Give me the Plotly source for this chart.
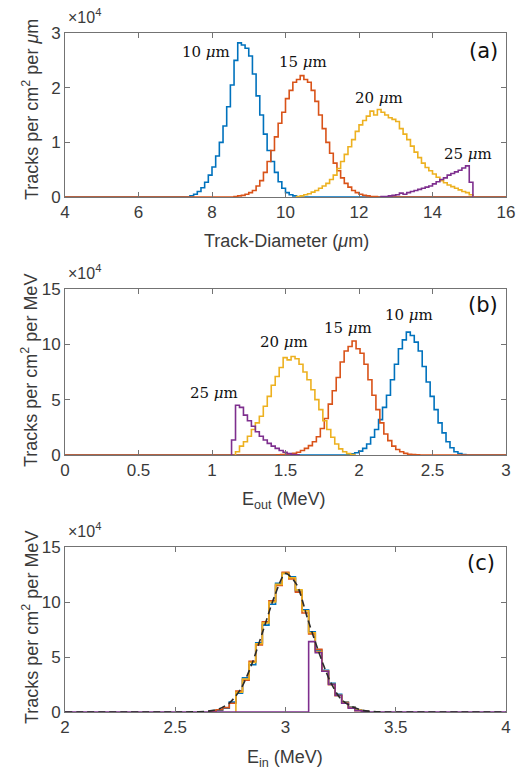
import numpy as np
import plotly.graph_objects as go

# ---------------- data (counts in units of 1e4) ----------------
# (a) track-diameter spectra, bin width 0.1 um
a_width = 0.1
a_10um_start = 7.4
a_10um = [0.02, 0.05, 0.10, 0.17, 0.27, 0.40, 0.55, 0.75, 1.00, 1.30, 1.65, 2.05, 2.50,
          2.82, 2.78, 2.72, 2.58, 2.25, 1.85, 1.50, 1.15, 0.85, 0.65, 0.45, 0.28, 0.16,
          0.08, 0.04, 0.02]
a_15um_start = 8.6
a_15um = [0.01, 0.02, 0.03, 0.05, 0.08, 0.12, 0.20, 0.30, 0.45, 0.65, 0.85, 1.10, 1.35,
          1.55, 1.80, 1.95, 2.10, 2.15, 2.22, 2.15, 2.10, 1.95, 1.75, 1.50, 1.25, 1.00,
          0.80, 0.62, 0.48, 0.35, 0.25, 0.18, 0.12, 0.08, 0.05, 0.03, 0.02, 0.01, 0.01]
a_20um_start = 10.3
a_20um = [0.01, 0.02, 0.04, 0.06, 0.09, 0.12, 0.16, 0.20, 0.25, 0.32, 0.40, 0.52, 0.65,
          0.78, 0.92, 1.05, 1.20, 1.32, 1.40, 1.48, 1.57, 1.50, 1.60, 1.55, 1.50, 1.45,
          1.42, 1.38, 1.25, 1.15, 1.05, 0.93, 0.82, 0.72, 0.62, 0.54, 0.48, 0.42, 0.36,
          0.30, 0.26, 0.22, 0.19, 0.16, 0.13, 0.10, 0.08, 0.04]
a_25um_start = 12.6
a_25um = [0.01, 0.01, 0.02, 0.03, 0.04, 0.07, 0.05, 0.08, 0.10, 0.12, 0.14, 0.16, 0.18,
          0.20, 0.24, 0.28, 0.32, 0.35, 0.40, 0.43, 0.46, 0.49, 0.53, 0.57, 0.27]

# (b) exit-energy spectra, bin width 0.027 MeV
b_width = 0.027
b_10um_start = 1.917
b_10um = [0.05, 0.10, 0.20, 0.35, 0.60, 1.00, 1.60, 2.30, 3.20, 4.30, 5.40, 6.80, 8.20,
          9.60, 10.4, 11.1, 10.8, 10.2, 9.40, 8.00, 6.60, 5.30, 4.10, 2.90, 2.00, 1.20,
          0.65, 0.30, 0.12, 0.04]
b_15um_start = 1.44
b_15um = [0.02, 0.04, 0.06, 0.10, 0.15, 0.25, 0.40, 0.60, 0.85, 1.20, 1.65, 2.40, 3.30,
          4.60, 5.80, 7.00, 8.40, 9.40, 9.80, 10.3, 9.60, 9.20, 8.20, 6.80, 5.40, 4.10,
          2.90, 1.90, 1.30, 0.80, 0.50, 0.30, 0.15, 0.07, 0.03, 0.01]
b_20um_start = 1.16
b_20um = [0.30, 0.80, 1.20, 1.70, 2.30, 2.90, 3.50, 4.40, 5.30, 6.30, 7.10, 7.90, 8.80,
          8.60, 8.90, 8.70, 8.20, 7.50, 6.80, 5.90, 5.00, 4.10, 3.10, 2.30, 1.60, 1.00,
          0.55, 0.30, 0.12, 0.04]
b_25um_start = 1.133
b_25um = [1.35, 4.50, 4.30, 3.60, 3.10, 2.60, 2.10, 1.70, 1.35, 1.05, 0.80, 0.60, 0.40,
          0.25, 0.12, 0.05, 0.02]

# (c) reconstructed incident-energy spectra, bin width 0.03 MeV
c_width = 0.03
c_10um_start = 2.655
c_10um = [0.05, 0.15, 0.35, 0.90, 1.70, 3.10, 4.30, 6.30, 7.90, 9.80, 11.7, 12.6, 12.3,
          11.0, 9.30, 7.30, 5.60, 3.80, 2.60, 1.60, 0.90, 0.45, 0.18, 0.06]
c_15um_start = 2.655
c_15um = [0.08, 0.20, 0.40, 0.80, 1.90, 2.90, 4.60, 6.10, 8.20, 10.1, 11.5, 12.7, 12.1,
          10.9, 9.00, 7.10, 5.70, 3.70, 2.50, 1.50, 0.85, 0.40, 0.15, 0.05]
c_20um_start = 2.775
c_20um = [1.80, 3.00, 4.50, 6.20, 8.10, 10.0, 11.6, 12.6, 12.2, 11.1, 9.20, 7.20, 5.50,
          3.70, 2.50, 1.50, 0.85, 0.40, 0.15, 0.05]
c_25um_start = 3.105
c_25um = [6.40, 5.40, 3.70, 2.50, 1.50, 0.80, 0.35, 0.12, 0.04]
# source spectrum (dashed)
c_src_e = [2.0, 2.55, 2.6, 2.65, 2.7, 2.75, 2.8, 2.85, 2.9, 2.95, 3.0, 3.05, 3.1, 3.15,
           3.2, 3.25, 3.3, 3.35, 3.4, 3.45, 4.0]
c_src_n = [0, 0, 0.02, 0.08, 0.3, 0.9, 2.2, 4.5, 7.5, 10.5, 12.6, 11.6, 8.5, 5.5,
           2.9, 1.2, 0.5, 0.15, 0.04, 0, 0]

labels = ["10 <i>μ</i>m", "15 <i>μ</i>m", "20 <i>μ</i>m", "25 <i>μ</i>m"]
colors = ["#0072BD", "#D95319", "#EDB120", "#7E2F8E"]

# ---------------- helpers ----------------
def stairs(start, width, vals, span=None):
    """Step outline of a histogram (MATLAB 'stairs' style)."""
    edges = start + width * np.arange(len(vals) + 1)
    xs = [edges[0]] + list(edges[:-1]) + [edges[-1]]
    ys = [0.0] + list(vals) + [0.0]
    if span is not None:
        xs = [span[0]] + xs + [span[1]]
        ys = [0.0] + ys + [0.0]
    return xs, ys


fig = go.Figure()

W, H = 526, 772
x_left, x_right = 65, 506
panels = {
    "a": (33, 197),
    "b": (289, 455),
    "c": (547, 712),
}

def ydom(top, bot):
    return [1 - bot / H, 1 - top / H]

xdom = [x_left / W, x_right / W]

axis_line = "#737373"
tick_font = dict(family="Liberation Sans, Arial, sans-serif", size=17, color="#3a3a3a")
common_axis = dict(showline=True, linecolor=axis_line, linewidth=1, mirror="ticks",
                   ticks="inside", ticklen=5, tickcolor=axis_line, tickwidth=1,
                   showgrid=False, zeroline=False, tickfont=tick_font, automargin=False)

# ----- panel (a)
sets_a = [(a_10um_start, a_10um), (a_15um_start, a_15um),
          (a_20um_start, a_20um), (a_25um_start, a_25um)]
for i, (s, v) in enumerate(sets_a):
    span = (4, 16) if i in (0, 1) else None
    xs, ys = stairs(s, a_width, v, span)
    fig.add_trace(go.Scatter(x=xs, y=ys, mode="lines", line=dict(color=colors[i], width=1.6, shape="hv"),
                             xaxis="x", yaxis="y", showlegend=False))

# ----- panel (b)
sets_b = [(b_10um_start, b_10um), (b_15um_start, b_15um),
          (b_20um_start, b_20um), (b_25um_start, b_25um)]
for i, (s, v) in enumerate(sets_b):
    span = (0, 3) if i in (0, 1) else None
    xs, ys = stairs(s, b_width, v, span)
    fig.add_trace(go.Scatter(x=xs, y=ys, mode="lines", line=dict(color=colors[i], width=1.6, shape="hv"),
                             xaxis="x2", yaxis="y2", showlegend=False))

# ----- panel (c)
sets_c = [(c_10um_start, c_10um), (c_15um_start, c_15um),
          (c_20um_start, c_20um), (c_25um_start, c_25um)]
for i, (s, v) in enumerate(sets_c):
    span = (2, 4) if i == 3 else None
    xs, ys = stairs(s, c_width, v, span)
    fig.add_trace(go.Scatter(x=xs, y=ys, mode="lines", line=dict(color=colors[i], width=1.6, shape="hv"),
                             xaxis="x3", yaxis="y3", showlegend=False))
fig.add_trace(go.Scatter(x=c_src_e, y=c_src_n, mode="lines",
                         line=dict(color="#2b2b2b", width=1.6, dash="7px,4px", shape="spline", smoothing=0.8),
                         xaxis="x3", yaxis="y3", showlegend=False))

# ----- axes
fig.update_layout(
    width=W, height=H, margin=dict(l=0, r=0, t=0, b=0),
    paper_bgcolor="white", plot_bgcolor="white",
    xaxis=dict(domain=xdom, range=[4, 16], tickvals=[4, 6, 8, 10, 12, 14, 16], anchor="y", **common_axis),
    yaxis=dict(domain=ydom(*panels["a"]), range=[0, 3], tickvals=[0, 1, 2, 3], anchor="x", **common_axis),
    xaxis2=dict(domain=xdom, range=[0, 3], tickvals=[0, 0.5, 1, 1.5, 2, 2.5, 3], anchor="y2", **common_axis),
    yaxis2=dict(domain=ydom(*panels["b"]), range=[0, 15], tickvals=[0, 5, 10, 15], anchor="x2", **common_axis),
    xaxis3=dict(domain=xdom, range=[2, 4], tickvals=[2, 2.5, 3, 3.5, 4], anchor="y3", **common_axis),
    yaxis3=dict(domain=ydom(*panels["c"]), range=[0, 15], tickvals=[0, 5, 10, 15], anchor="x3", **common_axis),
)

ann = []
title_font = dict(family="Liberation Sans, Arial, sans-serif", size=18, color="#3a3a3a")
serif = dict(family="DejaVu Serif, serif", size=15, color="#111111")
panel_font = dict(family="DejaVu Sans, sans-serif", size=21, color="#111111")

def px(x, y, text, font, xanchor="center", **kw):
    ann.append(dict(x=x / W, y=1 - y / H, xref="paper", yref="paper", text=text,
                    showarrow=False, font=font, xanchor=xanchor, yanchor="middle", **kw))

# axis titles
px(286, 241, "Track-Diameter (<i>μ</i>m)", title_font)
px(284, 500, "E<sub>out</sub> (MeV)", title_font)
px(285, 758, "E<sub>in</sub> (MeV)", title_font)
px(30, 110, "Tracks per cm<sup>2</sup> per <i>μ</i>m", title_font, textangle=-90)
px(30, 371, "Tracks per cm<sup>2</sup> per MeV", title_font, textangle=-90)
px(30, 628, "Tracks per cm<sup>2</sup> per MeV", title_font, textangle=-90)

# exponent labels
for top in (33, 289, 547):
    px(66, top - 17, "×10<sup>4</sup>", dict(family="Liberation Sans, Arial, sans-serif", size=16, color="#3a3a3a"),
       xanchor="left")

# panel tags
px(483, 51, "(a)", panel_font)
px(483, 305, "(b)", panel_font)
px(481, 563, "(c)", panel_font)

# curve labels
px(206, 52, labels[0], serif)
px(303, 62, labels[1], serif)
px(379, 98, labels[2], serif)
px(468, 154, labels[3], serif)
px(409, 315, labels[0], serif)
px(348, 328, labels[1], serif)
px(284, 342, labels[2], serif)
px(214, 393, labels[3], serif)

fig.update_layout(annotations=ann)
fig.write_html("out.html")
